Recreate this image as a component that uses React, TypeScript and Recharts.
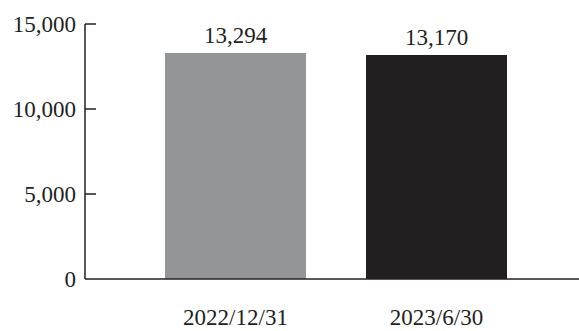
import React from 'react';
import { BarChart, Bar, XAxis, YAxis, Cell, LabelList } from 'recharts';

const categories = ['2022/12/31', '2023/6/30'];
const values = [13294, 13170];
const barColors = ['#939598', '#231f20'];
const yTicks = [0, 5000, 10000, 15000];

const data = categories.map((c, i) => ({ name: c, value: values[i] }));

const FONT = '"Liberation Serif", "Times New Roman", serif';
const INK = '#231f20';

const fmt = (v: number) => v.toLocaleString('en-US');

const YTick = (props: any) => {
  const { x, y, payload } = props;
  return (
    <g>
      {payload.value !== 0 && (
        <line x1={x} x2={x + 11} y1={y} y2={y} stroke={INK} strokeWidth={1.5} />
      )}
      <text x={x - 9} y={y} dy="0.35em" textAnchor="end" fontSize={23} fontFamily={FONT} fill={INK}>
        {fmt(payload.value)}
      </text>
    </g>
  );
};

const XTick = (props: any) => {
  const { x, y, payload } = props;
  return (
    <text x={x} y={y + 46} textAnchor="middle" fontSize={23} fontFamily={FONT} fill={INK}>
      {payload.value}
    </text>
  );
};

const TopLabel = (props: any) => {
  const { x, y, width, value } = props;
  return (
    <text x={x + width / 2} y={y - 10} textAnchor="middle" fontSize={23} fontFamily={FONT} fill={INK}>
      {fmt(value)}
    </text>
  );
};

export default function App() {
  return (
    <div style={{ position: 'absolute', left: 0, top: 0 }}>
      <BarChart
        width={579}
        height={331}
        data={data}
        margin={{ top: 24, right: 0, bottom: 0, left: 0 }}
      >
        <YAxis
          type="number"
          domain={[0, 15000]}
          ticks={yTicks}
          width={85}
          tickSize={0}
          tickMargin={0}
          tickLine={false}
          axisLine={{ stroke: INK, strokeWidth: 1.5 }}
          tick={<YTick />}
          interval={0}
        />
        <XAxis
          dataKey="name"
          height={52}
          tickSize={0}
          tickMargin={0}
          tickLine={false}
          padding={{ left: 50, right: 42 }}
          axisLine={{ stroke: INK, strokeWidth: 1.5 }}
          tick={<XTick />}
          interval={0}
        />
        <Bar dataKey="value" barSize={141} isAnimationActive={false}>
          {data.map((d, i) => (
            <Cell key={d.name} fill={barColors[i]} />
          ))}
          <LabelList dataKey="value" content={<TopLabel />} />
        </Bar>
      </BarChart>
    </div>
  );
}
